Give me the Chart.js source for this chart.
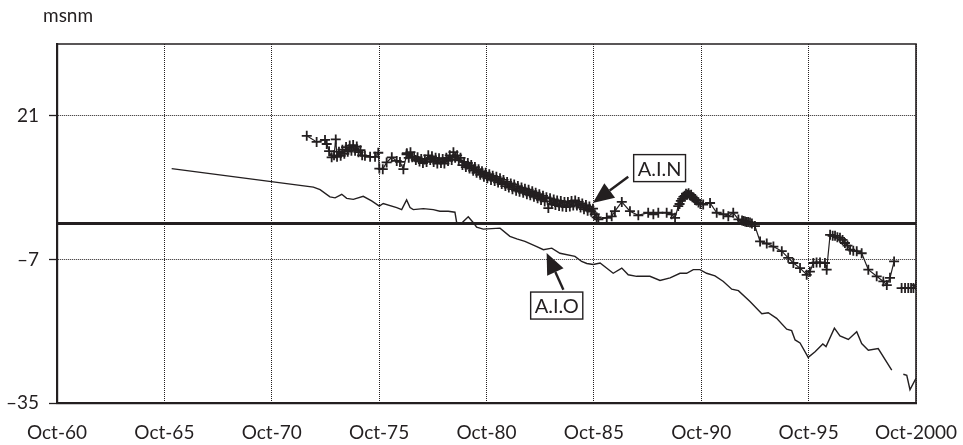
<!DOCTYPE html>
<html>
<head>
<meta charset="utf-8">
<script src="https://cdn.jsdelivr.net/npm/chart.js@4.4.1/dist/chart.umd.min.js"></script>
<style>
  html, body { margin: 0; padding: 0; background: #fff; }
  canvas { display: block; }
</style>
</head>
<body>
<canvas id="levels" width="963" height="445"></canvas>
<script>
// axis ticks
const xTickYears = [1960.75, 1965.75, 1970.75, 1975.75, 1980.75, 1985.75, 1990.75, 1995.75, 2000.75];
const xTickLabels = ['Oct-60', 'Oct-65', 'Oct-70', 'Oct-75', 'Oct-80', 'Oct-85', 'Oct-90', 'Oct-95', 'Oct-2000'];
const yTickValues = [-35, -7, 21];
const yTickLabels = ['\u201335', '\u20137', '21'];

// A.I.O (line only)
const aioYears = [1966.09, 1972.69, 1973.00, 1973.46, 1973.70, 1974.01, 1974.24, 1974.55, 1975.01, 1975.40,
  1975.76, 1975.94, 1976.57, 1976.80, 1977.03, 1977.19, 1977.34, 1977.81, 1978.27, 1978.58,
  1978.97, 1979.28, 1979.36, 1979.60, 1979.90, 1980.17, 1980.29, 1980.60, 1981.38, 1981.84,
  1982.16, 1982.54, 1983.09, 1983.40, 1983.79, 1984.17, 1984.87, 1985.18, 1985.42, 1985.72,
  1986.04, 1986.65, 1987.05, 1987.35, 1987.74, 1988.36, 1988.83, 1989.30, 1989.76, 1990.07,
  1990.38, 1990.69, 1991.00, 1991.39, 1991.78, 1992.17, 1992.48, 1993.02, 1993.57, 1993.87,
  1994.26, 1994.73, 1994.96, 1995.12, 1995.35, 1995.73, 1996.05, 1996.41, 1996.56, 1996.95,
  1997.21, 1997.60, 1997.99, 1998.22, 1998.53, 1998.99, 1999.62, 1999.90, 2000.16, 2000.32,
  2000.47, 2000.75];
const aioLevels = [10.7, 7.1, 6.6, 5.2, 5.0, 5.7, 4.9, 4.7, 5.3, 4.4,
  3.4, 3.9, 3.1, 2.7, 4.6, 3.1, 2.7, 2.9, 2.7, 2.4,
  2.4, 2.2, 0.2, 0.1, 1.3, 0.0, -0.7, -1.1, -0.9, -2.5,
  -3.0, -3.5, -4.5, -5.1, -4.8, -5.8, -6.4, -7.4, -7.8, -8.0,
  -7.7, -9.7, -8.7, -10.0, -10.3, -10.3, -11.1, -10.6, -9.7, -9.7,
  -9.0, -9.0, -9.7, -10.2, -11.3, -12.8, -13.1, -15.2, -17.6, -17.4,
  -18.5, -20.6, -20.9, -22.7, -23.3, -26.1, -25.0, -23.5, -24.0, -20.4,
  -21.9, -22.6, -21.1, -23.4, -24.7, -24.4, -28.6, null, -29.4, -29.6,
  -32.4, -30.2];

// A.I.N (line with + markers), monthly readings where the trace is dense
const ainYears = [1972.38, 1972.84, 1973.23, 1973.31, 1973.42, 1973.54, 1973.65, 1973.73,
  1973.79, 1973.88, 1973.96, 1974.04, 1974.13, 1974.21, 1974.29, 1974.38, 1974.46, 1974.54,
  1974.63, 1974.71, 1974.79, 1974.88, 1974.96,
  1975.09, 1975.33, 1975.56, 1975.71, 1975.76, 1975.92, 1976.10, 1976.34, 1976.57, 1976.72,
  1976.88, 1977.03,
  1977.04, 1977.13, 1977.21, 1977.29, 1977.38, 1977.46, 1977.54, 1977.63, 1977.71, 1977.79, 1977.88, 1977.96,
  1978.04, 1978.13, 1978.21, 1978.29, 1978.38, 1978.46, 1978.54, 1978.63, 1978.71, 1978.79, 1978.88, 1978.96,
  1979.04, 1979.13, 1979.21, 1979.29, 1979.38, 1979.46, 1979.54, 1979.63, 1979.71, 1979.79, 1979.88, 1979.96,
  1980.04, 1980.13, 1980.21, 1980.29, 1980.38, 1980.46, 1980.54, 1980.63, 1980.71, 1980.79, 1980.88, 1980.96,
  1981.04, 1981.13, 1981.21, 1981.29, 1981.38, 1981.46, 1981.54, 1981.63, 1981.71, 1981.79, 1981.88, 1981.96,
  1982.04, 1982.13, 1982.21, 1982.29, 1982.38, 1982.46, 1982.54, 1982.63, 1982.71, 1982.79, 1982.88, 1982.96,
  1983.04, 1983.13, 1983.21, 1983.29, 1983.38, 1983.46, 1983.54, 1983.63, 1983.71, 1983.79, 1983.88, 1983.96,
  1984.04, 1984.13, 1984.21, 1984.29, 1984.38, 1984.46, 1984.54, 1984.63, 1984.71, 1984.79, 1984.88, 1984.96,
  1985.04, 1985.13, 1985.21, 1985.29, 1985.38, 1985.46, 1985.54, 1985.63, 1985.71, 1985.79, 1985.88, 1985.96,
  1986.35, 1986.58, 1986.73, 1987.05, 1987.43, 1987.82, 1988.28, 1988.52, 1988.75, 1989.14,
  1989.37, 1989.53, 1989.68, 1989.74, 1989.80, 1989.86, 1989.92, 1989.98, 1990.04, 1990.10,
  1990.16, 1990.22, 1990.28, 1990.34, 1990.40, 1990.46, 1990.53, 1990.62, 1990.71, 1990.84,
  1991.16, 1991.47, 1991.78, 1992.01, 1992.24, 1992.48, 1992.65, 1992.72, 1992.79, 1992.86,
  1992.93, 1993.02, 1993.11, 1993.25, 1993.49, 1993.80, 1994.11, 1994.50, 1994.80, 1995.04,
  1995.35, 1995.66, 1995.81, 1995.97, 1996.12, 1996.28, 1996.51, 1996.59, 1996.75, 1996.87,
  1996.98, 1997.09, 1997.21, 1997.33, 1997.44, 1997.56, 1997.68, 1997.83, 1997.99, 1998.22,
  1998.53, 1998.92, 1999.23, 1999.39, 1999.54, 1999.73, 1999.90, 2000.08, 2000.24, 2000.39,
  2000.52, 2000.63, 2000.75];
const ainLevels = [17.1, 15.9, 16.3, 15.5, 14.1, 12.9, 13.3, 16.4,
  13.0, 14.0, 13.2, 14.4, 13.6, 14.9, 14.0, 15.2, 14.2, 15.3,
  14.2, 15.0, 13.9, 14.3, 13.3,
  13.2, 13.0, 13.0, 13.8, 10.7, 10.6, 11.9, 12.9, 12.2, 12.0,
  10.6, 13.5,
  13.7, 12.8, 13.9, 12.9, 13.0, 12.4, 12.9, 12.1, 12.6, 11.8, 12.5, 12.0,
  13.3, 12.4, 13.1, 12.0, 12.8, 11.7, 12.7, 11.8, 12.6, 11.7, 12.8, 12.2,
  13.3, 12.4, 13.9, 12.8, 13.3, 12.3, 12.8, 11.4, 12.0, 11.0, 11.8, 10.7,
  11.4, 10.3, 11.0, 9.9, 10.6, 9.5, 10.2, 9.1, 9.9, 8.8, 9.6, 8.5,
  9.3, 8.3, 9.1, 8.0, 8.8, 7.7, 8.5, 7.3, 8.1, 7.0, 7.8, 6.7,
  7.6, 6.4, 7.3, 6.2, 7.0, 6.0, 6.8, 5.7, 6.6, 5.5, 6.3, 5.2,
  6.0, 4.9, 5.7, 4.6, 5.4, 4.3, 5.1, 3.0, 4.9, 3.8, 4.7, 3.6,
  4.5, 3.4, 4.4, 3.3, 4.2, 3.2, 4.2, 3.3, 4.4, 3.5, 4.5, 3.5,
  4.2, 3.1, 3.9, 2.8, 3.6, 2.5, 3.3, 2.3, 2.9, 1.8, 1.2, 0.8,
  1.1, 1.4, 2.4, 4.2, 2.4, 1.6, 2.1, 1.8, 2.1, 2.1,
  1.8, 1.1, 3.4, 3.8, 4.4, 4.8, 5.2, 5.4, 5.8, 5.6,
  5.9, 5.5, 5.6, 5.1, 5.0, 4.6, 4.5, 4.1, 3.8, 3.7,
  4.0, 2.1, 1.8, 1.4, 2.1, 0.8, 0.6, 0.5, 0.4, 0.3,
  0.3, 0.2, 0.0, -0.5, -3.5, -3.9, -4.5, -5.4, -6.7, -7.7,
  -8.7, -10.0, -9.4, -7.7, -7.6, -7.6, -7.7, -9.0, -2.2, -2.4,
  -2.4, -2.7, -2.8, -3.2, -3.8, -4.3, -5.1, -5.3, -5.4, -5.8,
  -9.0, -10.3, -11.3, -12.0, -10.6, -7.4, null, -12.6, -12.6, -12.6,
  -12.6, -12.6, -12.0];

// reference level line
const zeroYears = [1960.75, 2000.75];
const zeroLevels = [0, 0];

// annotation labels
const noteNames = ['A.I.N', 'A.I.O'];
const noteYears = [1988.81, 1984.02];
const noteLevels = [10.8, -16.0];
const arrowTailYears = [1987.35, 1984.33];
const arrowTailLevels = [9.1, -12.9];
const arrowTipYears = [1985.70, 1983.55];
const arrowTipLevels = [4.0, -5.75];

const ink = '#231f20';
const fontFamily = 'Lato, "Open Sans", sans-serif';

function toPoints(years, levels) {
    return years.map((x, i) => ({ x: x, y: levels[i] }));
}

const frameAndNotes = {
    id: 'frameAndNotes',
    afterDatasetsDraw(chart) {
        const { ctx, chartArea, scales } = chart;
        ctx.save();
        // top and right frame
        ctx.strokeStyle = ink;
        ctx.lineWidth = 1.6;
        ctx.beginPath();
        ctx.moveTo(chartArea.left, chartArea.top);
        ctx.lineTo(chartArea.right, chartArea.top);
        ctx.lineTo(chartArea.right, chartArea.bottom);
        ctx.stroke();

        // arrows
        noteNames.forEach((name, i) => {
            const tx = scales.x.getPixelForValue(arrowTipYears[i]);
            const ty = scales.y.getPixelForValue(arrowTipLevels[i]);
            const sx = scales.x.getPixelForValue(arrowTailYears[i]);
            const sy = scales.y.getPixelForValue(arrowTailLevels[i]);
            const ang = Math.atan2(ty - sy, tx - sx);
            const headLen = 21, headHalf = 9;
            const bx = tx - headLen * Math.cos(ang);
            const by = ty - headLen * Math.sin(ang);
            ctx.lineWidth = 2.4;
            ctx.beginPath();
            ctx.moveTo(sx, sy);
            ctx.lineTo(bx, by);
            ctx.stroke();
            ctx.fillStyle = ink;
            ctx.beginPath();
            ctx.moveTo(tx, ty);
            ctx.lineTo(bx + headHalf * Math.sin(ang), by - headHalf * Math.cos(ang));
            ctx.lineTo(bx - headHalf * Math.sin(ang), by + headHalf * Math.cos(ang));
            ctx.closePath();
            ctx.fill();
        });

        // label boxes
        ctx.font = '20px ' + fontFamily;
        ctx.textAlign = 'center';
        ctx.textBaseline = 'middle';
        noteNames.forEach((name, i) => {
            const cx = scales.x.getPixelForValue(noteYears[i]);
            const cy = scales.y.getPixelForValue(noteLevels[i]);
            const w = ctx.measureText(name).width + 8, h = 27;
            ctx.fillStyle = '#fff';
            ctx.fillRect(cx - w / 2, cy - h / 2, w, h);
            ctx.lineWidth = 1.4;
            ctx.strokeRect(cx - w / 2, cy - h / 2, w, h);
            ctx.fillStyle = ink;
            ctx.fillText(name, cx, cy + 1);
        });

        // unit label
        ctx.textAlign = 'left';
        ctx.textBaseline = 'alphabetic';
        ctx.font = '19px ' + fontFamily;
        ctx.fillText('msnm', 43, 22);
        ctx.restore();
    }
};

Chart.defaults.font.family = fontFamily;
Chart.defaults.font.size = 19;
Chart.defaults.color = ink;

new Chart(document.getElementById('levels'), {
    type: 'line',
    data: {
        datasets: [
            {
                label: 'A.I.N',
                data: toPoints(ainYears, ainLevels),
                borderColor: ink,
                borderWidth: 1.2,
                pointStyle: 'cross',
                pointRadius: 5,
                pointBorderWidth: 1.8,
                pointBorderColor: ink,
                pointBackgroundColor: ink,
                tension: 0
            },
            {
                label: 'A.I.O',
                data: toPoints(aioYears, aioLevels),
                borderColor: ink,
                borderWidth: 1.4,
                pointRadius: 0,
                tension: 0
            },
            {
                label: 'zero',
                data: toPoints(zeroYears, zeroLevels),
                borderColor: ink,
                borderWidth: 3,
                pointRadius: 0
            }
        ]
    },
    options: {
        responsive: false,
        animation: false,
        devicePixelRatio: 1,
        layout: { padding: { top: 44, right: 47, left: 0, bottom: 0 } },
        plugins: {
            legend: { display: false },
            tooltip: { enabled: false }
        },
        scales: {
            x: {
                type: 'linear',
                min: 1960.75,
                max: 2000.75,
                afterBuildTicks: scale => { scale.ticks = xTickYears.map(v => ({ value: v })); },
                afterFit: scale => {
                    scale.height = 42;
                    scale.paddingLeft = 0;
                    scale.paddingRight = 0;
                },
                ticks: {
                    autoSkip: false,
                    maxRotation: 0,
                    padding: 18,
                    callback: (value, index) => xTickLabels[index]
                },
                grid: {
                    color: ink,
                    lineWidth: 1,
                    drawTicks: false
                },
                border: { color: ink, width: 2.2, dash: [1, 1] }
            },
            y: {
                min: -35,
                max: 35,
                afterBuildTicks: scale => { scale.ticks = yTickValues.map(v => ({ value: v })); },
                afterFit: scale => { scale.width = 57; },
                ticks: {
                    padding: 10,
                    callback: (value, index) => yTickLabels[index]
                },
                grid: {
                    color: ink,
                    lineWidth: 1,
                    drawTicks: true,
                    tickLength: 8,
                    tickColor: ink,
                    tickWidth: 1.3
                },
                border: { color: ink, width: 2.2, dash: [1, 1] }
            }
        }
    },
    plugins: [frameAndNotes]
});
</script>
</body>
</html>
